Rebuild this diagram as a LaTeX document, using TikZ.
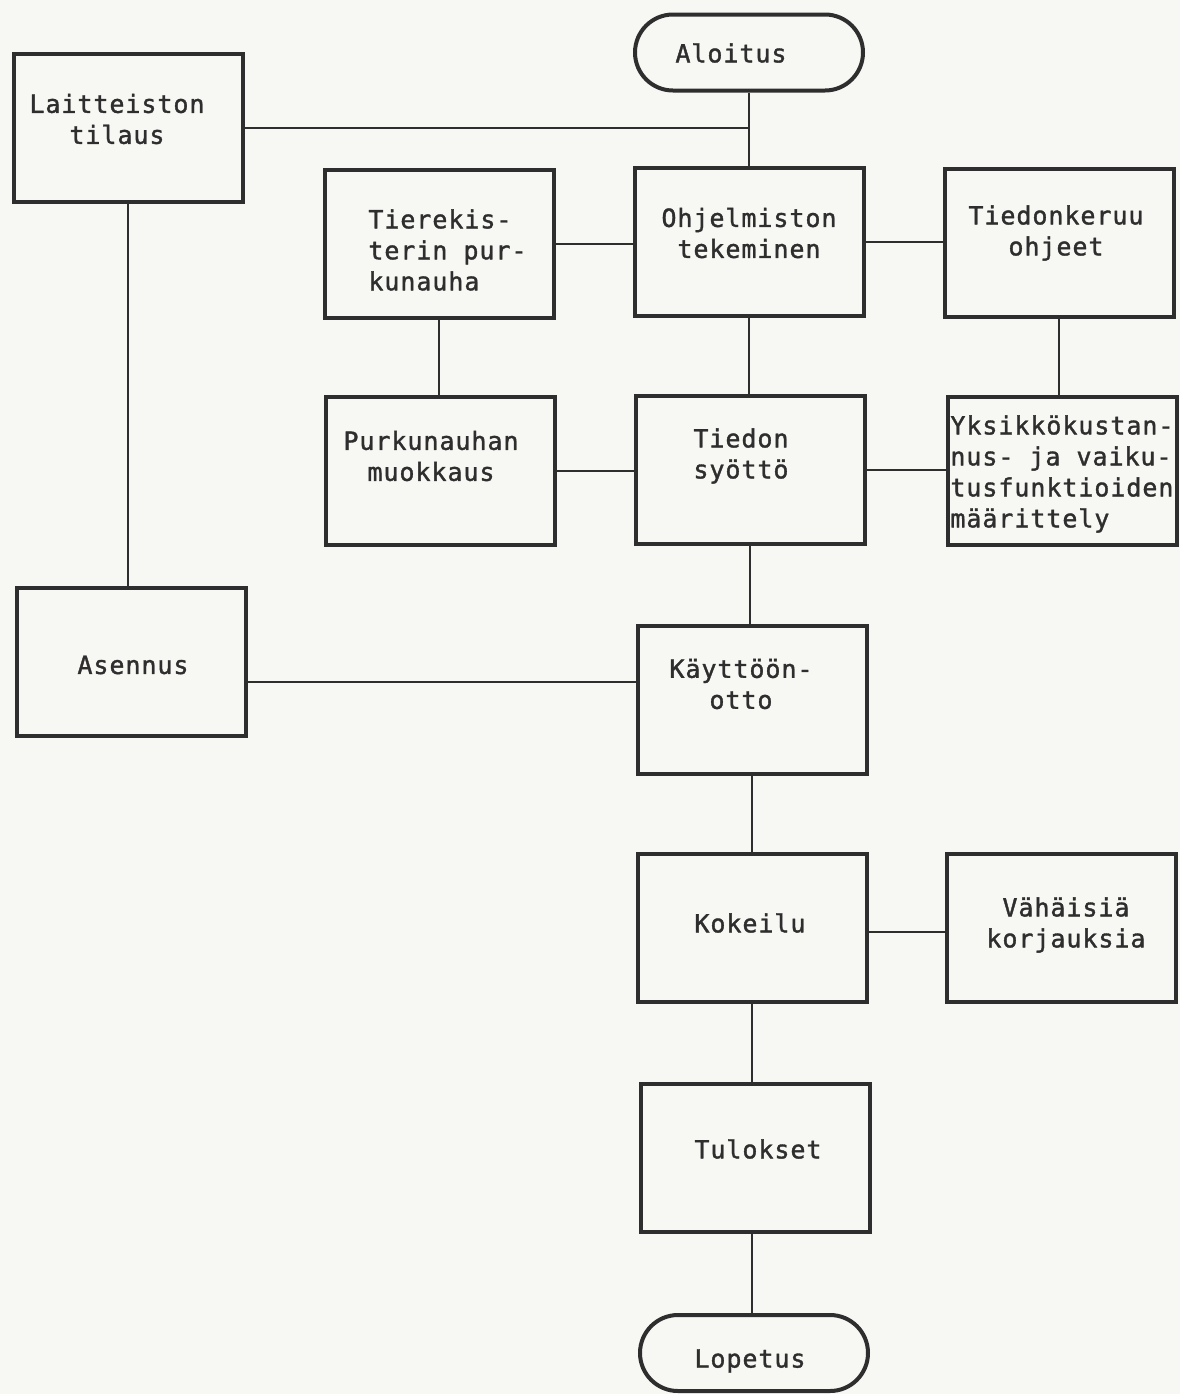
\documentclass[tikz,border=0pt]{standalone}
\usepackage{fontspec}
\newfontfamily\typer[LetterSpace=3.8,FakeBold=1.4]{DejaVu Sans Mono}
\usetikzlibrary{shapes.misc}
\definecolor{paper}{HTML}{F7F7F3}
\definecolor{ink}{HTML}{2E2E2E}
\begin{document}
\begin{tikzpicture}[x=0.5pt,y=-0.5pt,
  box/.style={draw=ink,line width=2pt,minimum width=114.5pt,minimum height=74pt,inner sep=0pt},
  term/.style={draw=ink,line width=2pt,rounded rectangle,minimum width=114pt,minimum height=38pt,inner sep=0pt},
  txt/.style={inner sep=0pt,text=ink,font=\typer\fontsize{12.5pt}{15.5pt}\selectfont,align=center},
  txtl/.style={txt,align=left,anchor=west},
  link/.style={draw=ink,line width=1.3pt}]
% sheet
\fill[paper] (0,0) rectangle (1180,1394);
\useasboundingbox (0,0) rectangle (1180,1394);

% boxes
\node[term] (aloitus) at (749,52.5) {};
\node[box] (lait)   at (128,128) {};
\node[box] (tierek) at (439,244) {};
\node[box] (ohj)    at (749,242) {};
\node[box] (tiedk)  at (1059,243) {};
\node[box] (purk)   at (440.5,471) {};
\node[box] (tsyo)   at (750,470) {};
\node[box] (yks)    at (1062,471) {};
\node[box] (asen)   at (131.5,662) {};
\node[box] (kayt)   at (752,700) {};
\node[box] (kok)    at (752,928) {};
\node[box] (vah)    at (1061.5,928) {};
\node[box] (tul)    at (755.5,1158) {};
\node[term] (lop)   at (754,1353) {};

% labels
\node[txt] (taloitus) at (731,53) {Aloitus};
\node[txt] (tlait)    at (117,119) {Laitteiston\\tilaus};
\node[txtl] (ttierek) at (368,250) {Tierekis-\\terin pur-\\kunauha};
\node[txt] (tohj)     at (749,233) {Ohjelmiston\\tekeminen};
\node[txt] (ttiedk)   at (1056,233) {Tiedonkeruu\\ohjeet};
\node[txt] (tpurk)    at (431,456) {Purkunauhan\\muokkaus};
\node[txt] (ttsyo)    at (741,456) {Tiedon\\syöttö};
\node[txtl] (tyks)    at (950,474) {Yksikkökustan-\\nus- ja vaiku-\\tusfunktioiden\\määrittely};
\node[txt] (tasen)    at (133,665) {Asennus};
\node[txt] (tkayt)    at (741,684) {Käyttöön-\\otto};
\node[txt] (tkok)     at (750,923) {Kokeilu};
\node[txt] (tvah)     at (1066,925) {Vähäisiä\\korjauksia};
\node[txt] (ttul)     at (758,1149) {Tulokset};
\node[txt] (tlop)     at (750,1361) {Lopetus};

% connectors
\coordinate (jtop) at (ohj.north |- lait.east);
\draw[link] (aloitus.south) -- (ohj.north);
\draw[link] (lait.east) -- (jtop);
\draw[link] (lait.south) -- (lait.south |- asen.north);
\draw[link] (tierek.east) -- (ohj.west |- tierek.east);
\draw[link] (ohj.east) -- (tiedk.west |- ohj.east);
\draw[link] (tierek.south) -- (tierek.south |- purk.north);
\draw[link] (ohj.south) -- (ohj.south |- tsyo.north);
\draw[link] (tiedk.south) -- (tiedk.south |- yks.north);
\draw[link] (purk.east) -- (tsyo.west |- purk.east);
\draw[link] (tsyo.east) -- (yks.west |- tsyo.east);
\draw[link] (tsyo.south) -- (tsyo.south |- kayt.north);
\draw[link] (asen.east |- 0,682) -- (kayt.west |- 0,682);
\draw[link] (kayt.south) -- (kayt.south |- kok.north);
\draw[link] (kok.east |- 0,932) -- (vah.west |- 0,932);
\draw[link] (kok.south) -- (kok.south |- tul.north);
\draw[link] (tul.south -| kok.south) -- (lop.north -| kok.south);
\end{tikzpicture}
\end{document}
